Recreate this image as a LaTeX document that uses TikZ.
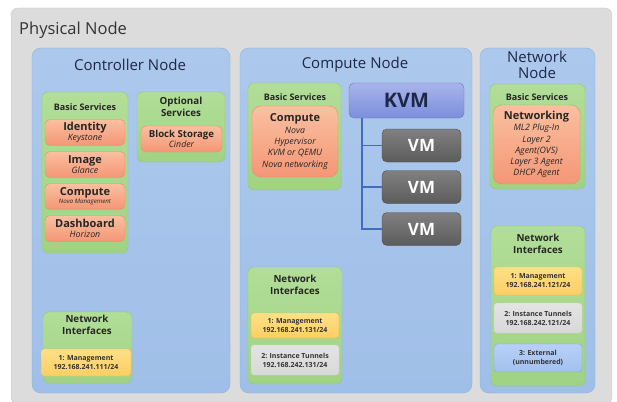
\documentclass[tikz,border=0pt]{standalone}
\usepackage{fontspec}
\setmainfont{Open Sans}
\newcommand{\fsz}[2]{\fontsize{#1}{#2}\selectfont}
\definecolor{physfill}{RGB}{220,220,220}
\definecolor{physline}{RGB}{202,202,202}
\definecolor{hosttop}{RGB}{172,200,236}
\definecolor{hostbot}{RGB}{160,191,232}
\definecolor{hostline}{RGB}{140,176,222}
\definecolor{grptop}{RGB}{178,222,152}
\definecolor{grpbot}{RGB}{160,210,132}
\definecolor{grpline}{RGB}{146,200,120}
\definecolor{svctop}{RGB}{250,192,160}
\definecolor{svcbot}{RGB}{244,150,118}
\definecolor{svcline}{RGB}{232,140,108}
\definecolor{mgmttop}{RGB}{255,224,135}
\definecolor{mgmtbot}{RGB}{252,206,100}
\definecolor{tungray}{RGB}{216,216,216}
\definecolor{exttop}{RGB}{184,208,246}
\definecolor{extbot}{RGB}{162,192,240}
\definecolor{kvmtop}{RGB}{168,180,236}
\definecolor{kvmbot}{RGB}{124,142,220}
\definecolor{vmtop}{RGB}{128,128,128}
\definecolor{vmbot}{RGB}{92,92,92}
\definecolor{linkblue}{RGB}{68,108,190}
\definecolor{titletext}{RGB}{30,40,70}
\tikzset{
  size/.style 2 args={minimum width=#1pt, minimum height=#2pt, inner sep=0pt},
  phys/.style={draw=physline, fill=physfill, rounded corners=7pt},
  host/.style={draw=hostline, top color=hosttop, bottom color=hostbot, rounded corners=9pt},
  group/.style={draw=grpline, top color=grptop, bottom color=grpbot, rounded corners=6pt},
  svc/.style={draw=svcline, top color=svctop, bottom color=svcbot, rounded corners=5pt,
    align=center, text=black!85},
  mgmt/.style={draw=mgmtbot!90!black, top color=mgmttop, bottom color=mgmtbot, rounded corners=3pt,
    align=center, font=\fsz{7}{9}\bfseries, text=black!80},
  tunnel/.style={mgmt, draw=black!18, top color=tungray!70!white, bottom color=tungray},
  extnet/.style={mgmt, draw=extbot!85!black, top color=exttop, bottom color=extbot},
  hosttitle/.style={font=\fsz{15}{16}, text=titletext, align=center},
  grptitle/.style={font=\fsz{9}{12.5}\bfseries, text=black!85, align=center},
  iftitle/.style={grptitle, font=\fsz{9.8}{12}\bfseries},
  kvm/.style={draw=kvmbot!85!black, top color=kvmtop, bottom color=kvmbot, rounded corners=5pt,
    font=\fsz{20}{22}\bfseries, text=titletext},
  vm/.style={draw=black!70, top color=vmtop, bottom color=vmbot, rounded corners=5pt,
    font=\fsz{17}{20}\bfseries, text=white},
  link/.style={draw=linkblue, line width=1.6pt}
}
\begin{document}
\begin{tikzpicture}[x=1pt,y=-1pt]
  \useasboundingbox (0,0) rectangle (617,401);
  \node[phys, size={601}{396}] (phys) at (311.5,206) {};
  \node[anchor=west, font=\fsz{16.5}{20}, text=black!80, inner sep=0pt] (physT) at (19,30) {Physical Node};

  % controller node
  \node[host, size={198}{345}] (ctrl) at (131,220.5) {};
  \node[hosttitle] (ctrlT) at (130,65) {Controller Node};
  \node[group, size={86}{161}] (ctrlBasic) at (85,172.5) {};
  \node[grptitle] (ctrlBasicT) at (85,107) {Basic Services};
  \node[svc, size={80}{26}, font=\fsz{8.8}{10}\itshape] (identity) at (85,132.5)
    {{\fsz{11}{12}\upshape\bfseries Identity}\\Keystone};
  \node[svc, size={80}{26}, font=\fsz{8.8}{10}\itshape] (image) at (85,164.5)
    {{\fsz{11}{12}\upshape\bfseries Image}\\Glance};
  \node[svc, size={80}{26}, font=\fsz{6.2}{8}\itshape] (ctrlCompute) at (85,196.5)
    {{\fsz{11}{12}\upshape\bfseries Compute}\\Nova Management};
  \node[svc, size={80}{26}, font=\fsz{8.8}{10}\itshape] (dashboard) at (85,228.5)
    {{\fsz{11}{12}\upshape\bfseries Dashboard}\\Horizon};
  \node[group, size={88}{70}] (optional) at (181,127) {};
  \node[iftitle] (optionalT) at (181,106.5) {Optional\\Services};
  \node[svc, size={81}{26}, font=\fsz{8.8}{10}\itshape] (blockStorage) at (181.5,139)
    {{\fsz{9.6}{11}\upshape\bfseries Block Storage}\\Cinder};
  \node[group, size={89}{71}] (ctrlIf) at (87.5,347.5) {};
  \node[iftitle] (ctrlIfT) at (87,325) {Network\\Interfaces};
  \node[mgmt, size={90}{27}] (ctrlMgmt) at (86,362.5) {1: Management\\192.168.241.111/24};

  % compute node
  \node[host, size={232}{345}] (comp) at (356,220.5) {};
  \node[hosttitle] (compT) at (355,65) {Compute Node};
  \node[group, size={93}{107}] (compBasic) at (294.5,136.5) {};
  \node[grptitle] (compBasicT) at (295,97) {Basic Services};
  \node[svc, size={86}{71}, rounded corners=9pt, font=\fsz{8.8}{11.3}\itshape] (nova) at (295,141.5)
    {{\fsz{11}{12}\upshape\bfseries Compute}\\Nova\\Hypervisor\\KVM or QEMU\\Nova networking};
  \node[kvm, size={115}{35}] (kvm) at (406.5,100.5) {KVM};
  \foreach \i/\y in {1/145.5,2/187,3/229}
    \node[vm, size={79}{33}] (vm\i) at (421.5,\y) {VM};
  \coordinate (trunk) at ([xshift=-44.5pt]kvm.south);
  \draw[link] (trunk) |- (vm3.west);
  \foreach \i in {1,2}
    \draw[link] (trunk |- vm\i.west) -- (vm\i.west);
  \node[group, size={94}{117}] (compIf) at (295,325.5) {};
  \node[iftitle] (compIfT) at (295,285) {Network\\Interfaces};
  \node[mgmt, size={88}{25}] (compMgmt) at (295,325.5) {1: Management\\192.168.241.131/24};
  \node[tunnel, size={88}{30}] (compTun) at (295,360) {2: Instance Tunnels\\192.168.242.131/24};

  % network node
  \node[host, size={115}{345}] (net) at (537.5,220.5) {};
  \node[hosttitle] (netT) at (537,65) {Network\\Node};
  \node[group, size={95}{105}] (netBasic) at (537.5,136.5) {};
  \node[grptitle] (netBasicT) at (537,97) {Basic Services};
  \node[svc, size={87}{79}, rounded corners=9pt, font=\fsz{8.8}{11.2}\itshape] (networking) at (536.5,144.5)
    {{\fsz{11}{12}\upshape\bfseries Networking}\\ML2 Plug-In\\Layer 2\\Agent(OVS)\\Layer 3 Agent\\DHCP Agent};
  \node[group, size={94}{160}] (netIf) at (538,306) {};
  \node[iftitle] (netIfT) at (538,244) {Network\\Interfaces};
  \node[mgmt, size={88}{28}] (netMgmt) at (538,281) {1: Management\\192.168.241.121/24};
  \node[tunnel, size={88}{30}] (netTun) at (538,318) {2: Instance Tunnels\\192.168.242.121/24};
  \node[extnet, size={88}{28}] (netExt) at (538,358) {3: External\\(unnumbered)};
\end{tikzpicture}
\end{document}
